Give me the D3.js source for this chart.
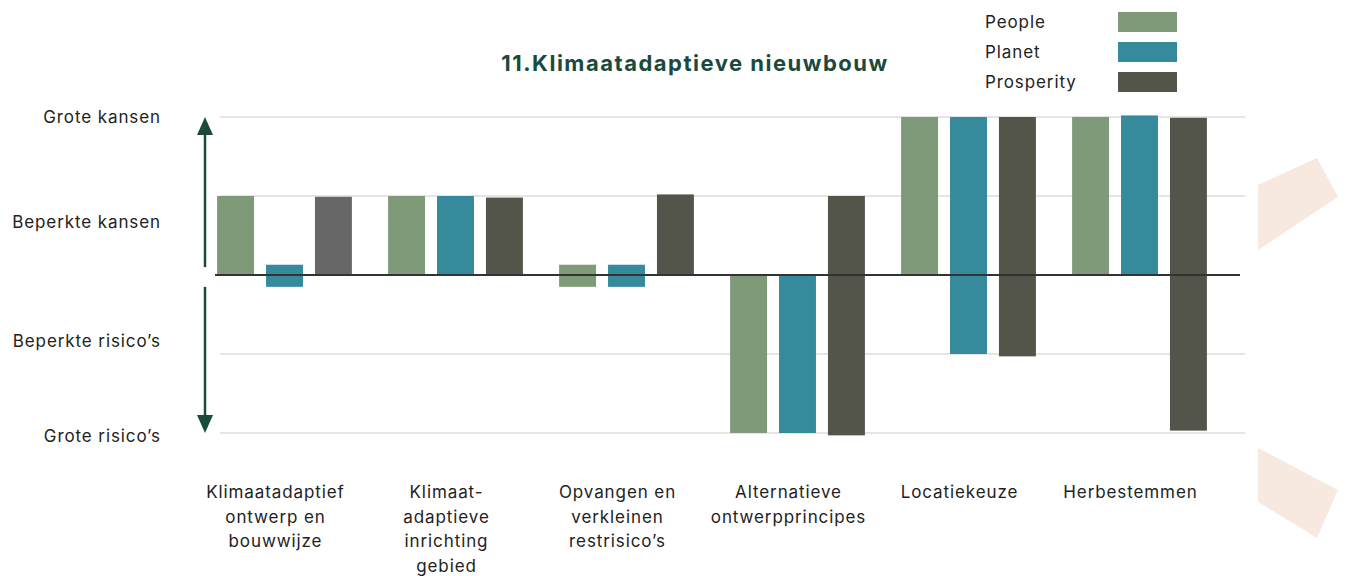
<!DOCTYPE html>
<html>
<head>
<meta charset="utf-8">
<script src="https://cdn.jsdelivr.net/npm/d3@7"></script>
<style>
  body { margin: 0; background: #fff; }
  svg { display: block; font-family: Inter, "Noto Sans", sans-serif; }
</style>
</head>
<body>
<div id="container"></div>
<script>
// categories on the x axis (lines of the label split with |)
const categories = [
  "Klimaatadaptief|ontwerp en|bouwwijze",
  "Klimaat-|adaptieve|inrichting|gebied",
  "Opvangen en|verkleinen|restrisico’s",
  "Alternatieve|ontwerpprincipes",
  "Locatiekeuze",
  "Herbestemmen"
];
const series = ["People", "Planet", "Prosperity"];

// each bar runs from a low to a high value (scale -2 .. 2)
const peopleLow      = [0, 0, -0.15, -2, 0, 0];
const peopleHigh     = [1, 1, 0.13, 0, 2, 2];
const planetLow      = [-0.15, 0, -0.15, -2, -1, 0];
const planetHigh     = [0.13, 1, 0.13, 0, 2, 2.02];
const prosperityLow  = [0, 0, 0, -2.03, -1.03, -1.97];
const prosperityHigh = [0.99, 0.98, 1.02, 1, 2, 1.99];

const tickLabels = ["Grote kansen", "Beperkte kansen", "Beperkte risico’s", "Grote risico’s"];
const tickValues = [2, 0.67, -0.83, -2.04];
const gridValues = [2, 1, -1, -2];

const W = 1346, H = 576;
const colors = { People: "#7f9a78", Planet: "#358a9c", Prosperity: "#53554b" };

const svg = d3.select("#container").append("svg")
  .attr("width", W).attr("height", H);

const x = d3.scaleBand().domain(categories).range([199, 1225]);
const xs = d3.scaleBand().domain(series)
  .range([0, x.bandwidth()])
  .paddingInner(0.245).paddingOuter(0.37);
const y = d3.scaleLinear().domain([-2, 2]).range([433, 117]);

// decorative shapes on the right
const deco = svg.append("g").attr("fill", "#f8e9e0");
deco.append("polygon").attr("points", "1258,185 1317,158 1338,197 1258,250");
deco.append("polygon").attr("points", "1258,448 1338,490 1317,538 1258,502");

// gridlines
svg.append("g").selectAll("line").data(gridValues).enter().append("line")
  .attr("x1", 220).attr("x2", 1245)
  .attr("y1", d => y(d)).attr("y2", d => y(d))
  .attr("stroke", "#dcdcdc").attr("stroke-width", 1.5);

// y labels
svg.append("g").selectAll("text").data(tickLabels).enter().append("text")
  .attr("x", 161)
  .attr("y", (d, i) => y(tickValues[i]))
  .attr("dy", "0.35em")
  .attr("text-anchor", "end")
  .attr("font-size", 17)
  .attr("letter-spacing", 0.9)
  .attr("fill", "#222")
  .text(d => d);

// double arrow
const green = "#1b4a3c";
svg.append("line").attr("x1", 205).attr("x2", 205)
  .attr("y1", y(2) + 10).attr("y2", y(0.1))
  .attr("stroke", green).attr("stroke-width", 2.5);
svg.append("line").attr("x1", 205).attr("x2", 205)
  .attr("y1", y(-0.15)).attr("y2", y(-2) - 10)
  .attr("stroke", green).attr("stroke-width", 2.5);
svg.append("path")
  .attr("d", `M205,${y(2)} L213,${y(2) + 18} L197,${y(2) + 18} Z`)
  .attr("fill", green);
svg.append("path")
  .attr("d", `M205,${y(-2)} L213,${y(-2) - 18} L197,${y(-2) - 18} Z`)
  .attr("fill", green);

// bars
const lows = { People: peopleLow, Planet: planetLow, Prosperity: prosperityLow };
const highs = { People: peopleHigh, Planet: planetHigh, Prosperity: prosperityHigh };
const bars = [];
categories.forEach((c, i) => {
  series.forEach(s => bars.push({ cat: c, i: i, s: s, lo: lows[s][i], hi: highs[s][i] }));
});

svg.append("g").selectAll("rect").data(bars).enter().append("rect")
  .attr("x", d => x(d.cat) + xs(d.s))
  .attr("width", xs.bandwidth())
  .attr("y", d => y(d.hi))
  .attr("height", d => y(d.lo) - y(d.hi))
  .attr("fill", d => (d.i === 0 && d.s === "Prosperity") ? "#676767" : colors[d.s]);

// zero line
svg.append("line")
  .attr("x1", 215).attr("x2", 1240)
  .attr("y1", y(0)).attr("y2", y(0))
  .attr("stroke", "#333").attr("stroke-width", 2);

// category labels
const catG = svg.append("g").selectAll("text").data(categories).enter().append("text")
  .attr("x", d => x(d) + x.bandwidth() / 2 - 9)
  .attr("y", 498)
  .attr("text-anchor", "middle")
  .attr("font-size", 17)
  .attr("letter-spacing", 0.9)
  .attr("fill", "#222");
catG.selectAll("tspan").data(d => d.split("|")).enter().append("tspan")
  .attr("x", function() { return d3.select(this.parentNode).attr("x"); })
  .attr("dy", (d, i) => i === 0 ? 0 : 24.5)
  .text(d => d);

// title
svg.append("text")
  .attr("x", 695).attr("y", 71)
  .attr("text-anchor", "middle")
  .attr("font-size", 22)
  .attr("font-weight", 700)
  .attr("letter-spacing", 1.5)
  .attr("fill", green)
  .text("11.Klimaatadaptieve nieuwbouw");

// legend
const legend = svg.append("g").selectAll("g").data(series).enter().append("g")
  .attr("transform", (d, i) => `translate(0, ${22 + i * 30})`);
legend.append("text")
  .attr("x", 985).attr("dy", "0.35em")
  .attr("font-size", 17).attr("letter-spacing", 0.9).attr("fill", "#222")
  .text(d => d);
legend.append("rect")
  .attr("x", 1118).attr("y", -10)
  .attr("width", 59).attr("height", 20)
  .attr("fill", d => colors[d]);
</script>
</body>
</html>
